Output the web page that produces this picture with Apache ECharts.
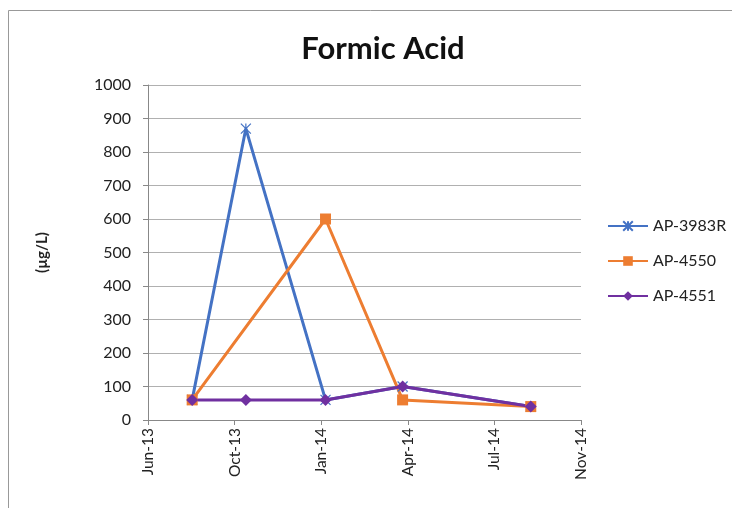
<!DOCTYPE html>
<html>
<head>
<meta charset="utf-8">
<script src="https://cdn.jsdelivr.net/npm/echarts@6/dist/echarts.min.js"></script>
<style>
  html, body { margin: 0; padding: 0; background: #fff; }
  #chart { width: 732px; height: 508px; }
</style>
</head>
<body>
<div id="chart"></div>
<script>
// sample dates and values
var dates3983 = ['2013-08-15', '2013-10-16', '2014-01-16', '2014-04-15', '2014-09-10'];
var vals3983 = [60, 870, 60, 100, 40];
var dates4550 = ['2013-08-15', '2014-01-16', '2014-04-15', '2014-09-10'];
var vals4550 = [60, 600, 60, 40];
var dates4551 = ['2013-08-15', '2013-10-16', '2014-01-16', '2014-04-15', '2014-09-10'];
var vals4551 = [60, 60, 60, 100, 40];

var months = ['Jan', 'Feb', 'Mar', 'Apr', 'May', 'Jun', 'Jul', 'Aug', 'Sep', 'Oct', 'Nov', 'Dec'];
var base = Date.UTC(1899, 11, 30);

// excel-style day serial, so the axis ticks land where excel put them
var toSerial = function (s) {
    var p = s.split('-');
    return Math.round((Date.UTC(+p[0], +p[1] - 1, +p[2]) - base) / 86400000);
};
var serialLabel = function (v) {
    var d = new Date(base + v * 86400000);
    return months[d.getUTCMonth()] + '-' + String(d.getUTCFullYear()).slice(2);
};
var pairs = function (ds, vs) {
    return ds.map(function (d, i) { return [toSerial(d), vs[i]]; });
};

var font = 'Lato, "Open Sans", sans-serif';
var chart = echarts.init(document.getElementById('chart'));

chart.setOption({
    animation: false,
    textStyle: { fontFamily: font },
    title: {
        text: 'Formic Acid',
        left: 378, top: 28, textAlign: 'center',
        textStyle: { fontSize: 31, fontWeight: 'bold', color: '#111', fontFamily: font }
    },
    graphic: [{
        type: 'rect',
        shape: { x: 8.5, y: 10.5, width: 740, height: 520 },
        style: { fill: 'none', stroke: '#999', lineWidth: 1 },
        silent: true
    }],
    legend: {
        orient: 'vertical',
        left: 607, top: 218, padding: 0,
        itemWidth: 40, itemHeight: 12, itemGap: 19,
        textStyle: { fontSize: 16, color: '#222', fontFamily: font },
        data: ['AP-3983R', 'AP-4550', 'AP-4551']
    },
    grid: { left: 148, right: 151, top: 85, bottom: 88 },
    xAxis: {
        type: 'value',
        min: 41450, max: 41950, interval: 100,
        axisLine: { lineStyle: { color: '#888' } },
        axisTick: { show: true, length: 5, lineStyle: { color: '#888' } },
        splitLine: { show: false },
        axisLabel: {
            rotate: 90, fontSize: 15.5, color: '#222', margin: 8,
            formatter: serialLabel
        }
    },
    yAxis: {
        type: 'value',
        min: 0, max: 1000, interval: 100,
        name: '(µg/L)',
        nameLocation: 'middle', nameGap: 98, nameRotate: 90,
        nameTextStyle: { fontSize: 15, fontWeight: 'bold', color: '#222' },
        axisLine: { show: true, lineStyle: { color: '#888' } },
        axisTick: { show: true, length: 5, lineStyle: { color: '#888' } },
        splitLine: { lineStyle: { color: '#b0b0b0', width: 1 } },
        axisLabel: { fontSize: 16, color: '#222', margin: 17, formatter: function (v) { return String(v); } }
    },
    series: [
        {
            name: 'AP-3983R', type: 'line',
            data: pairs(dates3983, vals3983),
            symbol: 'path://M0,0L10,10M10,0L0,10M5,0L5,10', symbolSize: 10,
            lineStyle: { color: '#4472C4', width: 3 },
            itemStyle: { color: '#4472C4', borderColor: '#4472C4', borderWidth: 1.2 }
        },
        {
            name: 'AP-4550', type: 'line',
            data: pairs(dates4550, vals4550),
            symbol: 'rect', symbolSize: 11,
            lineStyle: { color: '#ED7D31', width: 3 },
            itemStyle: { color: '#ED7D31', borderWidth: 0 }
        },
        {
            name: 'AP-4551', type: 'line',
            data: pairs(dates4551, vals4551),
            symbol: 'diamond', symbolSize: 12,
            lineStyle: { color: '#7030A0', width: 3 },
            itemStyle: { color: '#7030A0', borderWidth: 0 }
        }
    ]
});
</script>
</body>
</html>
